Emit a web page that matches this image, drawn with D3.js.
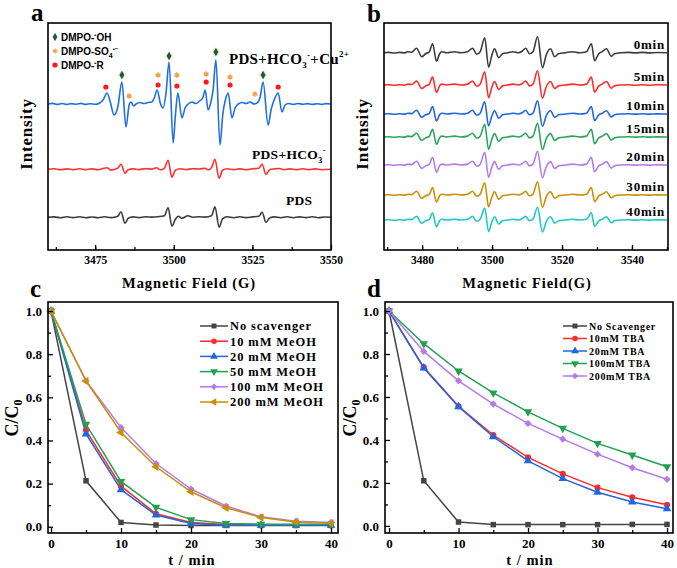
<!DOCTYPE html>
<html><head><meta charset="utf-8">
<script src="https://cdn.jsdelivr.net/npm/d3@7"></script>
<style>body{margin:0;background:#fff}</style>
</head><body>
<svg id="fig" width="677" height="568"></svg>
<script>
// ---------------- DATA ----------------
// Panel a: EPR spectra (field G, intensity relative to own baseline, a.u.)
const specA_cu = [[3460,0],[3461.5,0.6],[3463,-0.4],[3464.5,0.5],[3466,-0.5],[3467.5,0.4],[3469,-0.3],[3470.5,0.6],[3472,-0.4],[3473.5,0.3],[3475,-0.3],[3476.3,0.8],[3477.5,4],[3478.8,11],[3479.8,2],[3481,-11],[3482.2,-3],[3483.5,22],[3484.8,-23],[3485.8,-1],[3486.4,2],[3487.2,-2],[3488,0],[3489.2,1.5],[3490.5,0.5],[3491.8,1.5],[3493,2],[3493.8,6],[3494.7,14],[3495.8,0],[3496.6,-4],[3497.5,10],[3498.5,42],[3499.8,-39],[3500.5,-12],[3501.3,11],[3502.6,-14],[3503.6,-4],[3504.6,0],[3505.8,2],[3507,0.5],[3508.2,3],[3509.2,6],[3510,14],[3510.9,-6],[3511.8,2],[3512.5,14],[3513.4,44],[3514.7,-41],[3515.6,-10],[3516.4,4],[3517.3,11],[3518.5,-14],[3519.5,-4],[3520.5,0],[3521.8,1.5],[3523,0.5],[3524.3,2],[3525.5,0],[3526.5,1],[3527.4,6],[3528.4,22],[3530,-21],[3531,-5],[3531.8,3],[3533.2,11],[3534.4,-8],[3535.4,-1],[3536.5,0.5],[3538,-0.4],[3539.5,0.5],[3541,-0.3],[3542.5,0.4],[3544,-0.5],[3545.5,0.3],[3547,-0.4],[3548.5,0.4],[3550,0]];
const specA_hco3 = [[3460,0],[3462,0.5],[3464,-0.5],[3466,0.4],[3468,-0.4],[3470,0.5],[3472,-0.3],[3474,0.4],[3476,-0.5],[3477.5,0.8],[3478.8,1.5],[3480,-0.8],[3481.5,0.3],[3482.3,1.5],[3483.2,5],[3484.5,-4],[3485.5,-0.5],[3487,0.4],[3489,-0.3],[3491,0.6],[3493,0.2],[3494.5,1.5],[3495.8,-0.5],[3497,1],[3498.2,9],[3499.4,-8],[3500.5,-1],[3502,0.5],[3504,-0.3],[3506,0.6],[3508,0.3],[3510,1],[3511,-0.5],[3512,1.5],[3513.1,10],[3514.4,-9],[3515.5,-1],[3517,0.5],[3519,-0.3],[3521,0.4],[3523,-0.4],[3525,0.5],[3527,1],[3528.1,5],[3529.3,-5],[3530.5,-0.5],[3532,0.4],[3533.5,0.8],[3535,-0.4],[3537,0.4],[3539,-0.4],[3541,0.5],[3543,-0.3],[3545,0.4],[3547,-0.4],[3550,0]];
const specA_pds = [[3460,0],[3462,0.4],[3464,-0.5],[3466,0.5],[3468,-0.3],[3470,0.5],[3472,-0.4],[3474,0.3],[3476,-0.4],[3478,0.5],[3480,-0.3],[3481.5,0.4],[3482.3,1.5],[3483.2,5.6],[3484.5,-6],[3485.5,-1],[3487,0.4],[3489,-0.3],[3491,0.5],[3493,0.2],[3495,0.6],[3497,1.5],[3498.2,9.6],[3499.4,-9],[3500.5,-2],[3501.5,1],[3502.6,-1],[3504.5,1.5],[3506,0],[3508,0.5],[3510,0.2],[3512,1.5],[3513.1,10.6],[3514.4,-10],[3515.5,-1.5],[3517,0.5],[3519,-0.4],[3521,0.5],[3523,-0.3],[3525,0.4],[3527,1],[3528.1,5],[3529.3,-5],[3530.5,-0.6],[3532,0.4],[3534,-0.4],[3536,0.5],[3538,-0.4],[3540,0.4],[3542,-0.3],[3544,0.5],[3546,-0.4],[3548,0.3],[3550,0]];
const specA_names = ["PDS+HCO3-+Cu2+", "PDS+HCO3-", "PDS"];
const specA_baselines = [146, 80.7, 32.7];
// marker positions (field G, intensity a.u.)
const markOH = [[3483.5,175],[3498.5,194],[3513.4,198],[3528.4,175]];
const markSO4 = [[3485.8,154],[3495,175],[3501,175],[3510.3,176],[3517.9,173],[3525.8,156]];
const markR = [[3478.4,163],[3495,165],[3501,164],[3510.3,168],[3517.9,165],[3533.2,163]];
const fieldTicksA = [3475, 3500, 3525, 3550];

// Panel b: EPR spectra vs time
const specB_shape = [[3469,0],[3470.5,0.3],[3472,-0.3],[3473.5,0.3],[3475,-0.2],[3475.9,1],[3477,0.5],[3478.4,4.5],[3479.9,-4],[3481,-1],[3482,0.5],[3483,9],[3484.1,-8.5],[3485,-1],[3485.6,1],[3487,0],[3489.3,1],[3491,0],[3493,1],[3494.4,4.5],[3495.6,-1.5],[3496.6,1],[3497.9,15],[3499,-14.5],[3499.9,-3],[3500.7,4],[3501.9,-5],[3503,-1],[3504.5,0],[3505.9,1],[3507.5,0],[3508.6,1.5],[3509.6,4.5],[3510.7,-1],[3511.7,1],[3513,16],[3514.4,-15],[3515.5,-2],[3516.7,4],[3517.9,-4],[3519,-1],[3521,0],[3523,1],[3525,0],[3527,1],[3528.4,9],[3529.3,-8],[3530.5,-1],[3531.5,1],[3532.7,4],[3534.1,-3.5],[3535,-1],[3537,0],[3539,0.3],[3541,-0.2],[3543,0.3],[3545,-0.2],[3547,0.2],[3550,0]];
const specB_labels = ["0min","5min","10min","15min","20min","30min","40min"];
const specB_scale = [1.0, 0.88, 0.82, 0.85, 0.85, 0.82, 0.8];
const specB_baselines = [197.3, 165, 136, 113, 85, 55, 30];
const specB_colors = ["#3c3c3c","#ff2a2a","#1f66e0","#2aa55a","#b57be8","#c98f05","#22c8c8"];
const fieldTicksB = [3480, 3500, 3520, 3540];

// Panel c: MeOH scavenger
const times = [0,5,10,15,20,25,30,35,40];
const c_names = ["No scavenger","10 mM MeOH","20 mM MeOH","50 mM MeOH","100 mM MeOH","200 mM MeOH"];
const c_noScav = [1.0,0.213,0.02,0.008,0.006,0.006,0.006,0.006,0.006];
const c_10 = [1.0,0.447,0.188,0.06,0.02,0.01,0.009,0.009,0.009];
const c_20 = [1.0,0.43,0.172,0.054,0.015,0.007,0.007,0.007,0.007];
const c_50 = [1.0,0.475,0.21,0.09,0.033,0.015,0.012,0.012,0.012];
const c_100 = [1.0,0.676,0.46,0.293,0.175,0.096,0.046,0.026,0.02];
const c_200 = [1.0,0.676,0.437,0.278,0.162,0.088,0.043,0.022,0.016];

// Panel d: TBA scavenger
const d_names = ["No Scavenger","10mM TBA","20mM TBA","100mM TBA","200mM TBA"];
const d_noScav = [1.0,0.21,0.018,0.006,0.006,0.006,0.006,0.007,0.007];
const d_10 = [1.0,0.738,0.557,0.423,0.319,0.242,0.178,0.133,0.098];
const d_20 = [1.0,0.735,0.555,0.415,0.303,0.22,0.157,0.111,0.08];
const d_100 = [1.0,0.848,0.721,0.619,0.531,0.454,0.384,0.33,0.275];
const d_200 = [1.0,0.812,0.675,0.567,0.477,0.404,0.334,0.271,0.217];

// ---------------- DRAW ----------------
const svg = d3.select("#fig");
const serif = "'Liberation Serif','Times New Roman',serif";
const sans = "'Liberation Sans',Arial,sans-serif";

function frame(x0,y0,x1,y1){
  svg.append("rect").attr("x",x0).attr("y",y0).attr("width",x1-x0).attr("height",y1-y0)
    .attr("fill","none").attr("stroke","#000").attr("stroke-width",1.6);
}
function panelLabel(t,x,y){
  svg.append("text").attr("x",x).attr("y",y).text(t)
    .attr("font-family",serif).attr("font-weight","bold").attr("font-size",25);
}
function xAxis(x, y0, major, minor, fs, pad){
  const g = svg.append("g").attr("transform",`translate(0,${y0})`);
  g.call(d3.axisBottom(x).tickValues(minor).tickSize(-3).tickFormat(""));
  g.call(g2=>g2.select(".domain").remove());
  const g3 = svg.append("g").attr("transform",`translate(0,${y0})`);
  g3.call(d3.axisBottom(x).tickValues(major).tickSize(-5).tickPadding(pad).tickFormat(d3.format("d")));
  g3.select(".domain").remove();
  svg.selectAll("g line").attr("stroke","#000").attr("stroke-width",1.3);
  g3.selectAll("text").attr("font-family",serif).attr("font-weight","bold").attr("font-size",fs).attr("fill","#000");
}
function yAxis(y, x0, major, minor, fs, pad){
  const g = svg.append("g").attr("transform",`translate(${x0},0)`);
  g.call(d3.axisLeft(y).tickValues(minor).tickSize(-3).tickFormat(""));
  g.select(".domain").remove();
  const g3 = svg.append("g").attr("transform",`translate(${x0},0)`);
  g3.call(d3.axisLeft(y).tickValues(major).tickSize(-5).tickPadding(pad).tickFormat(d3.format(".1f")));
  g3.select(".domain").remove();
  svg.selectAll("g line").attr("stroke","#000").attr("stroke-width",1.3);
  g3.selectAll("text").attr("font-family",serif).attr("font-weight","bold").attr("font-size",fs).attr("fill","#000");
}
function rotLabel(t,x,y,fs){
  svg.append("text").attr("transform",`translate(${x},${y}) rotate(-90)`).attr("text-anchor","middle")
    .attr("font-family",serif).attr("font-weight","bold").attr("font-size",fs).attr("letter-spacing",0.8).text(t);
}

// ===== Panel a =====
{
  const L=48,R=331,T=23,B=250;
  const x = d3.scaleLinear().domain([3460,3550]).range([L,R]);
  const y = d3.scaleLinear().domain([0,227]).range([B,T]);
  const specs=[specA_cu,specA_hco3,specA_pds];
  const cols=["#1f6fe0","#ff3030","#3c3c3c"];
  specs.forEach((s,i)=>{
    const line=d3.line().x(d=>x(d[0])).y(d=>y(d[1]+specA_baselines[i])).curve(d3.curveMonotoneX);
    svg.append("path").attr("d",line(s)).attr("fill","none").attr("stroke",cols[i]).attr("stroke-width",1.6);
  });
  markOH.forEach(d=>{
    svg.append("circle").attr("cx",x(d[0])).attr("cy",y(d[1])).attr("r",4.5).attr("fill","#fbf6d8");
    svg.append("path").attr("d",d3.symbol(d3.symbolDiamond,22)()).attr("transform",`translate(${x(d[0])},${y(d[1])})`).attr("fill","#165a4a");
  });
  markSO4.forEach(d=>{
    svg.append("path").attr("d",d3.symbol(d3.symbolAsterisk,22)()).attr("transform",`translate(${x(d[0])},${y(d[1])})`)
      .attr("fill","none").attr("stroke","#f0a048").attr("stroke-width",1.4);
  });
  markR.forEach(d=>{
    svg.append("circle").attr("cx",x(d[0])).attr("cy",y(d[1])).attr("r",2.6).attr("fill","#ff1a1a");
  });
  svg.append("path").attr("d",d3.symbol(d3.symbolDiamond,20)()).attr("transform",`translate(55,37)`).attr("fill","#165a4a");
  svg.append("path").attr("d",d3.symbol(d3.symbolAsterisk,18)()).attr("transform",`translate(55,51)`).attr("fill","none").attr("stroke","#f0a048").attr("stroke-width",1.3);
  svg.append("circle").attr("cx",55).attr("cy",65).attr("r",2.6).attr("fill","#ff1a1a");
  const t1=svg.append("text").attr("x",61).attr("y",40.5).attr("font-family",sans).attr("font-weight","bold").attr("font-size",10);
  t1.append("tspan").text("DMPO-");t1.append("tspan").attr("dy",-4).attr("font-size",6).text("•");t1.append("tspan").attr("dy",4).text("OH");
  const t2=svg.append("text").attr("x",61).attr("y",54.5).attr("font-family",sans).attr("font-weight","bold").attr("font-size",10);
  t2.append("tspan").text("DMPO-SO");t2.append("tspan").attr("dy",3).attr("font-size",7).text("4");t2.append("tspan").attr("dy",-7).attr("font-size",6).text("•−");
  const t3=svg.append("text").attr("x",61).attr("y",68.5).attr("font-family",sans).attr("font-weight","bold").attr("font-size",10);
  t3.append("tspan").text("DMPO-");t3.append("tspan").attr("dy",-4).attr("font-size",6).text("•");t3.append("tspan").attr("dy",4).text("R");
  const l1=svg.append("text").attr("x",229).attr("y",64).attr("font-family",serif).attr("font-weight","bold").attr("font-size",15).attr("letter-spacing",0.3);
  l1.append("tspan").text("PDS+HCO");l1.append("tspan").attr("dy",4).attr("font-size",9).text("3");
  l1.append("tspan").attr("dy",-10).attr("font-size",9).text("-");l1.append("tspan").attr("dy",6).text("+Cu");
  l1.append("tspan").attr("dy",-7).attr("font-size",9).text("2+");
  const l2=svg.append("text").attr("x",252).attr("y",159).attr("font-family",serif).attr("font-weight","bold").attr("font-size",13.5).attr("letter-spacing",0.3);
  l2.append("tspan").text("PDS+HCO");l2.append("tspan").attr("dy",4).attr("font-size",8.5).text("3");
  l2.append("tspan").attr("dy",-10).attr("font-size",8.5).text("-");
  svg.append("text").attr("x",286).attr("y",205).attr("font-family",serif).attr("font-weight","bold").attr("font-size",13.5).attr("letter-spacing",0.3).text("PDS");
  frame(L,T,R,B);
  const minor=d3.range(3462.5,3550,12.5);
  xAxis(x,B,fieldTicksA,minor,11.5,6);
  rotLabel("Intensity",32,134,17);
  svg.append("text").attr("x",189).attr("y",288).attr("text-anchor","middle").attr("font-family",serif).attr("font-weight","bold").attr("font-size",14.5).attr("letter-spacing",0.9).text("Magnetic Field (G)");
  panelLabel("a",31,21);
}

// ===== Panel b =====
{
  const L=384,R=668,T=23,B=250;
  const x = d3.scaleLinear().domain([3469.1,3550.3]).range([L,R]);
  const y = d3.scaleLinear().domain([0,227]).range([B,T]);
  specB_labels.forEach((lab,i)=>{
    const line=d3.line().x(d=>x(d[0])).y(d=>y(d[1]*specB_scale[i]+specB_baselines[i])).curve(d3.curveMonotoneX);
    svg.append("path").attr("d",line(specB_shape)).attr("fill","none").attr("stroke",specB_colors[i]).attr("stroke-width",1.6);
    svg.append("text").attr("x",665).attr("y",y(specB_baselines[i])-4).attr("text-anchor","end")
      .attr("font-family",serif).attr("font-weight","bold").attr("font-size",13).attr("letter-spacing",0.8).text(lab);
  });
  frame(L,T,R,B);
  xAxis(x,B,fieldTicksB,d3.range(3470,3551,10),11.5,6);
  rotLabel("Intensity",368,134,17);
  svg.append("text").attr("x",527).attr("y",288).attr("text-anchor","middle").attr("font-family",serif).attr("font-weight","bold").attr("font-size",14.5).attr("letter-spacing",0.9).text("Magnetic Field(G)");
  panelLabel("b",367,22);
}

const symSquare=d3.symbol(d3.symbolSquare,30)();
const symCircle=d3.symbol(d3.symbolCircle,30)();
const symTri=d3.symbol(d3.symbolTriangle,32)();
const symDiamond=d3.symbol(d3.symbolSquare,26)();

function kineticPanel(L,R,T,B,xdom,ydom,series,names,colors,syms,legX,legY0,legDy,legFs,legLs,legLine){
  const x=d3.scaleLinear().domain(xdom).range([L,R]);
  const y=d3.scaleLinear().domain(ydom).range([B,T]);
  const line=d3.line().x((d,i)=>x(times[i])).y(d=>y(d));
  series.forEach((s,k)=>{
    svg.append("path").attr("d",line(s)).attr("fill","none").attr("stroke",colors[k]).attr("stroke-width",1.5);
  });
  series.forEach((s,k)=>{
    s.forEach((v,i)=>{
      svg.append("path").attr("d",syms[k].d).attr("transform",`translate(${x(times[i])},${y(v)}) rotate(${syms[k].r})`).attr("fill",colors[k]);
    });
  });
  names.forEach((n,k)=>{
    const yy=legY0+k*legDy;
    svg.append("line").attr("x1",legX).attr("x2",legX+legLine).attr("y1",yy).attr("y2",yy).attr("stroke",colors[k]).attr("stroke-width",1.5);
    svg.append("path").attr("d",syms[k].d).attr("transform",`translate(${legX+legLine/2},${yy}) rotate(${syms[k].r}) scale(0.9)`).attr("fill",colors[k]);
    svg.append("text").attr("x",legX+legLine+2).attr("y",yy+legFs*0.35).attr("font-family",serif).attr("font-weight","bold")
      .attr("font-size",legFs).attr("letter-spacing",legLs).text(n);
  });
  frame(L,T,R,B);
  xAxis(x,B,[0,10,20,30,40],[5,15,25,35],13,6);
  yAxis(y,L,[0,0.2,0.4,0.6,0.8,1.0],[0.1,0.3,0.5,0.7,0.9],13,6);
  return {x,y};
}

// ===== Panel c =====
{
  const colors=["#444444","#ff2a2a","#1f66e0","#22a050","#b57be8","#c98f05"];
  const syms=[{d:symSquare,r:0},{d:symCircle,r:0},{d:symTri,r:0},{d:symTri,r:180},{d:symDiamond,r:45},{d:symTri,r:-90}];
  kineticPanel(48,338,302,533,[-0.43,41],[-0.029,1.042],[c_noScav,c_10,c_20,c_50,c_100,c_200],c_names,colors,syms,200,326,15.2,12.5,0.9,28);
  const cl=svg.append("text").attr("transform","translate(18,418) rotate(-90)").attr("text-anchor","middle").attr("font-family",serif).attr("font-weight","bold").attr("font-size",18);
  cl.append("tspan").text("C/C");cl.append("tspan").attr("dy",4).attr("font-size",12).text("0");
  svg.append("text").attr("x",192).attr("y",565).attr("text-anchor","middle").attr("font-family",serif).attr("font-weight","bold").attr("font-size",14.5).attr("letter-spacing",1).text("t / min");
  panelLabel("c",30,297);
}

// ===== Panel d =====
{
  const colors=["#444444","#ff2a2a","#1f66e0","#22a050","#b57be8"];
  const syms=[{d:symSquare,r:0},{d:symCircle,r:0},{d:symTri,r:0},{d:symTri,r:180},{d:symDiamond,r:45}];
  kineticPanel(385,673,302,533,[-0.58,40.86],[-0.033,1.042],[d_noScav,d_10,d_20,d_100,d_200],d_names,colors,syms,563,326,12.5,10,0.7,24);
  const cl=svg.append("text").attr("transform","translate(356,418) rotate(-90)").attr("text-anchor","middle").attr("font-family",serif).attr("font-weight","bold").attr("font-size",18);
  cl.append("tspan").text("C/C");cl.append("tspan").attr("dy",4).attr("font-size",12).text("0");
  svg.append("text").attr("x",530).attr("y",565).attr("text-anchor","middle").attr("font-family",serif).attr("font-weight","bold").attr("font-size",14.5).attr("letter-spacing",1).text("t / min");
  panelLabel("d",367,297);
}
</script>
</body></html>
